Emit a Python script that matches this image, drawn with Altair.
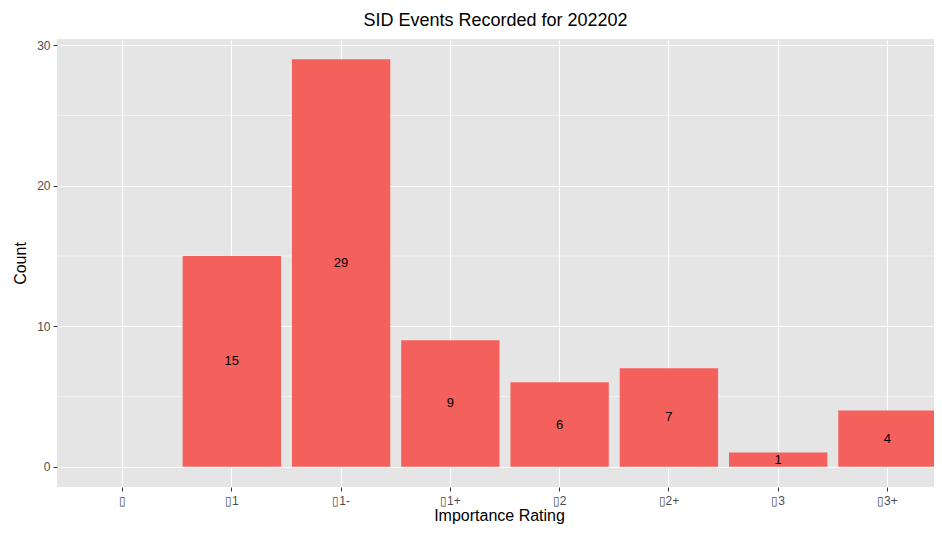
import altair as alt
import pandas as pd

categories = ["▯", "▯1", "▯1-", "▯1+", "▯2", "▯2+", "▯3", "▯3+"]
counts = [0, 15, 29, 9, 6, 7, 1, 4]
major_ticks = [0, 10, 20, 30]
minor_ticks = [5, 15, 25]

FONT = "Liberation Sans"
BAR = "#F4615C"

df = pd.DataFrame({"rating": categories, "count": counts})
minor_df = pd.DataFrame({"v": minor_ticks})

# full panel would be 896 px wide; the visible part is cut at the page edge
xscale = alt.Scale(domain=categories, paddingInner=0.1, paddingOuter=0.15, range=[0, 896])
yscale = alt.Scale(domain=[-1.45, 30.45], nice=False, zero=False)

x_enc = alt.X(
    "rating:N", sort=categories, scale=xscale,
    axis=alt.Axis(
        title="Importance Rating", labelAngle=0, bandPosition=0.5,
        grid=True, gridColor="white", gridWidth=1.1,
        domain=False, ticks=True, tickColor="#333333", tickSize=4, tickWidth=1,
        labelColor="#4D4D4D", labelFontSize=12, labelFont=FONT, labelPadding=4,
        titleFont=FONT, titleFontSize=16, titleFontWeight="normal", titleColor="black",
        titlePadding=1, titleX=442, titleAnchor="middle",
    ),
)

y_axis = alt.Axis(
    title="Count", values=major_ticks,
    grid=True, gridColor="white", gridWidth=1.1,
    domain=False, ticks=True, tickColor="#333333", tickSize=4, tickWidth=1,
    labelColor="#4D4D4D", labelFontSize=12, labelFont=FONT, labelPadding=3,
    titleFont=FONT, titleFontSize=16, titleFontWeight="normal", titleColor="black",
    titlePadding=8,
)

minor = alt.Chart(minor_df).mark_rule(color="white", strokeWidth=0.55).encode(
    y=alt.Y("v:Q", scale=yscale, axis=y_axis)
)

base = alt.Chart(df).transform_filter(alt.datum["count"] > 0)

bars = base.mark_bar(color=BAR).encode(
    x=x_enc,
    y=alt.Y("count:Q", scale=yscale, axis=y_axis),
    y2=alt.datum(0),
)

labels = base.transform_calculate(mid="datum['count'] / 2").mark_text(
    font=FONT, fontSize=13, color="black", baseline="middle"
).encode(
    x=alt.X("rating:N", sort=categories, scale=xscale),
    y=alt.Y("mid:Q", scale=yscale),
    text=alt.Text("count:Q"),
)

chart = alt.layer(minor, bars, labels).properties(
    width=877, height=448,
    title=alt.TitleParams("SID Events Recorded for 202202", font=FONT, fontSize=18,
                          fontWeight="normal", color="black", anchor="middle", offset=9),
    padding={"left": 49, "top": 31, "right": 0, "bottom": 38},
    autosize=alt.AutoSizeParams(type="none"),
).configure_view(fill="#E5E5E5", stroke=None)

chart.save("out.html", embed_options={"renderer": "svg", "actions": False})
